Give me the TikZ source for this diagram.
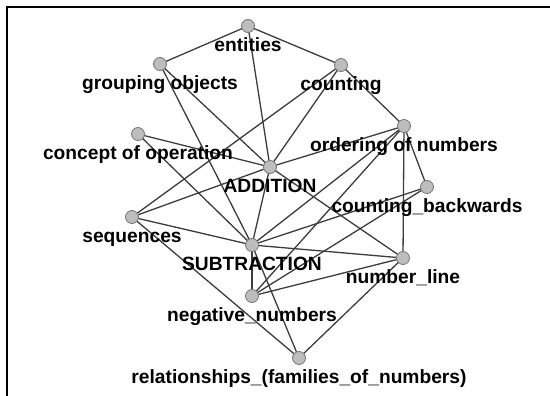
\documentclass[tikz,border=0pt]{standalone}
\usepackage{fontspec}
\setmainfont{Liberation Sans}
\usetikzlibrary{backgrounds}

\definecolor{nodefill}{HTML}{BDBDBD}
\definecolor{nodeline}{HTML}{757575}
\definecolor{edgecol}{HTML}{3C3C3C}

\tikzset{
	term/.style={circle, draw=nodeline, fill=nodefill, line width=0.8pt,
		minimum size=13pt, inner sep=0pt, outer sep=0pt},
	every label/.style={font=\fontsize{19.2}{21}\selectfont\bfseries, text=black,
		inner sep=0pt, text height=13pt, text depth=4pt, yshift=-6pt},
	link/.style={draw=edgecol, line width=1.3pt},
}

\begin{document}
\begin{tikzpicture}[x=1pt, y=-1pt]
	\useasboundingbox (0,0) rectangle (550,396);
	\draw [line width=2pt] (7,396) -- (7,7) -- (550,7);

	\node [term, label=below:entities] (ent) at (248,26) {};
	\node [term, label=below:grouping objects] (grp) at (160,64) {};
	\node [term, label=below:counting] (cnt) at (341,65) {};
	\node [term, label=below:concept of operation] (con) at (138,134) {};
	\node [term, label=below:ordering of numbers] (ord) at (404,126) {};
	\node [term, label=below:ADDITION] (add) at (270,167) {};
	\node [term, label=below:counting\_backwards] (cbk) at (427,187) {};
	\node [term, label=below:sequences] (seq) at (132,217) {};
	\node [term, label=below:SUBTRACTION] (sub) at (252,245) {};
	\node [term, label=below:number\_line] (nl) at (403,258) {};
	\node [term, label=below:negative\_numbers] (neg) at (252,296) {};
	\node [term, label=below:relationships\_(families\_of\_numbers)] (rel) at (299,358) {};

	\begin{pgfonlayer}{background}
	% top of the map
	\draw [link] (grp) -- (ent) -- (cnt);
	\draw [link] (ent) -- (add);
	\draw [link] (grp) -- (add);
	\draw [link] (grp) -- (sub);
	\draw [link] (cnt) -- (add);
	\draw [link] (cnt) -- (seq);
	\draw [link] (cnt) -- (ord);
	\draw [link] (con) -- (add);
	\draw [link] (con) -- (sub);

	% ADDITION and ordering
	\draw [link] (add) -- (ord);
	\draw [link] (add) -- (seq);
	\draw [link] (add) -- (sub);
	\draw [link] (add) -- (nl);
	\draw [link] (ord) -- (sub);
	\draw [link] (ord) -- (neg);
	\draw [link] (ord) -- (nl);
	\draw [link] (ord) -- (cbk);
	\draw [link] (cbk) -- (sub);
	\draw [link] (cbk) -- (neg);

	% SUBTRACTION and below
	\draw [link] (seq) -- (sub);
	\draw [link] (seq) -- (rel);
	\draw [link] (sub) -- (nl);
	\draw [link] (sub) -- (neg);
	\draw [link] (sub) -- (rel);
	\draw [link] (neg) -- (nl) -- (rel);
	\end{pgfonlayer}
\end{tikzpicture}
\end{document}
